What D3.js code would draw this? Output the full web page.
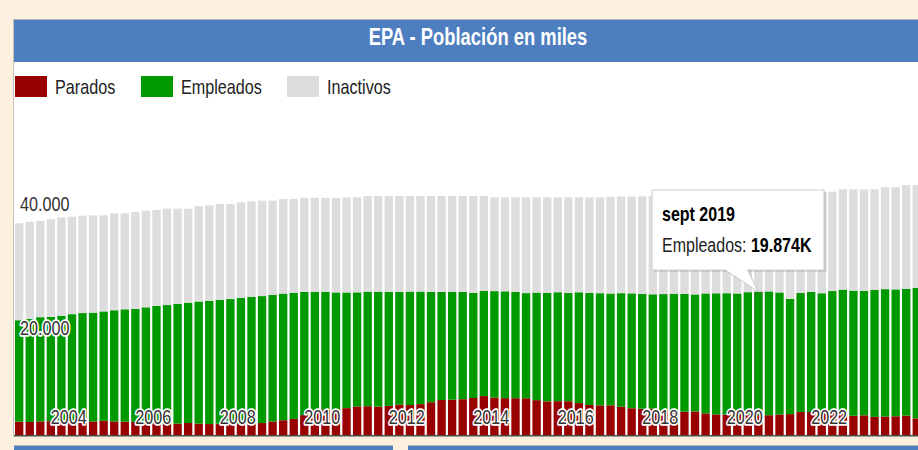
<!DOCTYPE html>
<html>
<head>
<meta charset="utf-8">
<script src="https://cdn.jsdelivr.net/npm/d3@7"></script>
<style>
  html, body { margin: 0; padding: 0; background: #fdf0df; overflow: hidden; }
  svg { display: block; font-family: "Liberation Sans", Arial, sans-serif; }
</style>
</head>
<body>
<svg id="epa" width="918" height="450"></svg>
<script>
// Quarterly EPA data, thousands of people (2002 T1 .. 2023 T2)
const years = d3.range(2002, 2024);
const quarterMonths = ["mar", "jun", "sept", "dic"];

const parados = [2152,2103,2196,2233, 2328,2227,2213,2176, 2288,2191,2145,2110, 2101,1913,1766,1841,
  1936,1837,1765,1810, 1857,1760,1791,1927, 2174,2382,2599,3208, 4011,4138,4123,4335,
  4613,4646,4575,4697, 4910,4834,4978,5287, 5640,5693,5778,5965, 6278,6047,5943,5936,
  5934,5623,5428,5458, 5444,5149,4851,4780, 4791,4575,4321,4238, 4255,3915,3732,3767,
  3796,3490,3326,3304, 3354,3231,3214,3192, 3313,3368,3723,3720, 3654,3543,3417,3104,
  3175,2920,2980,3024, 3127,2689];

const empleados = [16357,16631,16808,16826, 16909,17267,17454,17559, 17643,17932,18128,18233, 18493,18895,19191,19315,
  19400,19693,19896,20001, 20069,20367,20510,20477, 20402,20425,20346,19857, 19091,18945,18870,18646,
  18394,18477,18547,18408, 18152,18304,18156,17808, 17433,17417,17320,16957, 16951,17160,17230,17135,
  16951,17353,17504,17569, 17455,17867,18049,18094, 18029,18301,18528,18509, 18438,18813,19049,18998,
  18874,19344,19528,19564, 19471,19805,19874,19967, 19681,18607,19177,19344, 19207,19672,20031,20185,
  20084,20468,20545,20463, 20452,21056];

const inactivos = [15631,15666,15516,15731, 15873,15726,15703,15695, 15499,15627,15477,15627, 15586,15482,15543,15344,
  15164,15410,15379,15449, 15334,15403,15389,15396, 15224,15253,15115,15185, 15148,15167,15257,15349,
  15323,15427,15428,15445, 15488,15412,15416,15455, 15477,15440,15452,15628, 15321,15123,15157,15259,
  15445,15354,15398,15303, 15431,15314,15430,15456, 15620,15584,15621,15743, 15827,15832,15819,15875,
  16010,15906,15946,15992, 16105,15964,15992,15981, 16206,17275,16380,16236, 16389,16025,16182,16341,
  16371,16242,16425,16463, 16741,16575];

const seriesNames = ["Parados", "Empleados", "Inactivos"];
const yTicks = [20000, 40000];
const yearTicks = [2004, 2006, 2008, 2010, 2012, 2014, 2016, 2018, 2020, 2022];
const hoverPeriod = "sept 2019";

const colors = {Parados: "#990000", Empleados: "#009900", Inactivos: "#dddddd"};
const squeeze = 0.83; // text in the reference is horizontally condensed

const periods = years.flatMap(yr => quarterMonths.map(m => m + " " + yr)).slice(0, parados.length);
const rows = periods.map((p, i) => ({
  period: p, Parados: parados[i], Empleados: empleados[i], Inactivos: inactivos[i]
}));

const svg = d3.select("#epa");

// Panel background
svg.append("rect").attr("x", 14).attr("y", 20).attr("width", 930).attr("height", 416).attr("fill", "#fff");
svg.append("line").attr("x1", 13.5).attr("x2", 13.5).attr("y1", 19).attr("y2", 437).attr("stroke", "#c8c0b8");
svg.append("rect").attr("x", 14).attr("y", 20).attr("width", 930).attr("height", 42).attr("fill", "#4d7ebf");
svg.append("line").attr("x1", 14).attr("x2", 944).attr("y1", 19.5).attr("y2", 19.5).attr("stroke", "#b0b0b0");

// lower panels peeking in
[[14, 379], [408, 520]].forEach(([px, pw]) => {
  svg.append("rect").attr("x", px).attr("y", 446).attr("width", pw).attr("height", 10).attr("fill", "#4d7ebf");
  svg.append("line").attr("x1", px).attr("x2", px + pw).attr("y1", 445.5).attr("y2", 445.5).attr("stroke", "#b8b8b8");
});

// Title
svg.append("text")
  .attr("transform", `translate(478,45) scale(0.8,1)`)
  .attr("text-anchor", "middle")
  .attr("font-size", 23).attr("font-weight", "bold").attr("fill", "#fff")
  .text("EPA - Población en miles");

// Legend
const legendX = [15, 141, 287];
const legend = svg.selectAll("g.legend").data(seriesNames).join("g")
  .attr("class", "legend")
  .attr("transform", (d, i) => `translate(${legendX[i]},76)`);
legend.append("rect").attr("width", 32).attr("height", 21)
  .attr("fill", d => colors[d]);
legend.append("text")
  .attr("transform", `translate(40,18) scale(${squeeze},1)`)
  .attr("font-size", 19.5).attr("fill", "#222")
  .text(d => d);

// Scales
const step = 10.56;
const x0 = 13.9;
const x = d3.scaleBand().domain(periods).range([x0, x0 + step * periods.length])
  .paddingInner(0.21).paddingOuter(0.105);
const xYear = d3.scaleLinear().domain([2002, 2002 + periods.length / 4]).range(x.range());
const y = d3.scaleLinear().domain([0, 40000]).range([435, 187]);

const stack = d3.stack().keys(seriesNames);
const layers = stack(rows);

svg.append("g").selectAll("g").data(layers).join("g")
  .attr("fill", d => colors[d.key])
  .selectAll("rect").data(d => d.map(v => ({key: d.key, v})))
  .join("rect")
  .attr("x", d => x(d.v.data.period))
  .attr("width", x.bandwidth())
  .attr("y", d => y(d.v[1]))
  .attr("height", d => y(d.v[0]) - y(d.v[1]));

// hover outline on the highlighted segment
const hi = periods.indexOf(hoverPeriod);
svg.append("rect")
  .attr("x", x(hoverPeriod) + 0.5).attr("width", x.bandwidth() - 1)
  .attr("y", y(parados[hi] + empleados[hi]) + 0.5)
  .attr("height", y(parados[hi]) - y(parados[hi] + empleados[hi]) - 1)
  .attr("fill", "none").attr("stroke", "#2f6f2f").attr("stroke-opacity", 0.6);

// baseline
svg.append("line").attr("x1", 14).attr("x2", 918).attr("y1", 435.8).attr("y2", 435.8)
  .attr("stroke", "#4a4a4a").attr("stroke-width", 1.6);

const fmt = d3.formatLocale({decimal: ",", thousands: ".", grouping: [3], currency: ["", ""]}).format(",");

// y labels (inside, with halo)
svg.selectAll("text.ytick").data(yTicks).join("text")
  .attr("class", "ytick")
  .attr("transform", d => `translate(20,${y(d) + 24}) scale(${squeeze},1)`)
  .attr("font-size", 19.5).attr("fill", "#333")
  .attr("stroke", "#fff").attr("stroke-width", 3.5).attr("stroke-linejoin", "round")
  .attr("paint-order", "stroke")
  .text(d => fmt(d));

// x labels (inside, with halo)
svg.selectAll("text.xtick").data(yearTicks).join("text")
  .attr("class", "xtick")
  .attr("transform", d => `translate(${xYear(d - 0.7)},424) scale(${squeeze},1)`)
  .attr("text-anchor", "middle")
  .attr("font-size", 19.5).attr("fill", "#333")
  .attr("stroke", "#fff").attr("stroke-width", 3.5).attr("stroke-linejoin", "round")
  .attr("paint-order", "stroke")
  .text(d => d);

// Tooltip for the hovered bar
const tipX = x(hoverPeriod) + x.bandwidth() / 2;
const tipY = y(parados[hi] + empleados[hi]);
const tip = svg.append("g");
tip.append("path")
  .attr("d", `M654,192H827V272H${tipX - 9}L${tipX + 1},${tipY + 1}L${tipX - 31},272H654Z`)
  .attr("fill", "#000").attr("opacity", 0.1);
tip.append("path")
  .attr("d", `M652,190H824V270H${tipX - 11}L${tipX},${tipY}L${tipX - 33},270H652Z`)
  .attr("fill", "#fff").attr("stroke", "#cccccc");
tip.append("text")
  .attr("transform", `translate(662,221) scale(${squeeze},1)`)
  .attr("font-size", 19.3).attr("font-weight", "bold").attr("fill", "#000")
  .text(hoverPeriod);
const t2 = tip.append("text")
  .attr("transform", `translate(662,252) scale(${squeeze},1)`)
  .attr("font-size", 19.3).attr("fill", "#222");
t2.append("tspan").text("Empleados: ");
t2.append("tspan").attr("font-weight", "bold").attr("fill", "#000")
  .text(d3.format(".3f")(empleados[hi] / 1000) + "K");
</script>
</body>
</html>
